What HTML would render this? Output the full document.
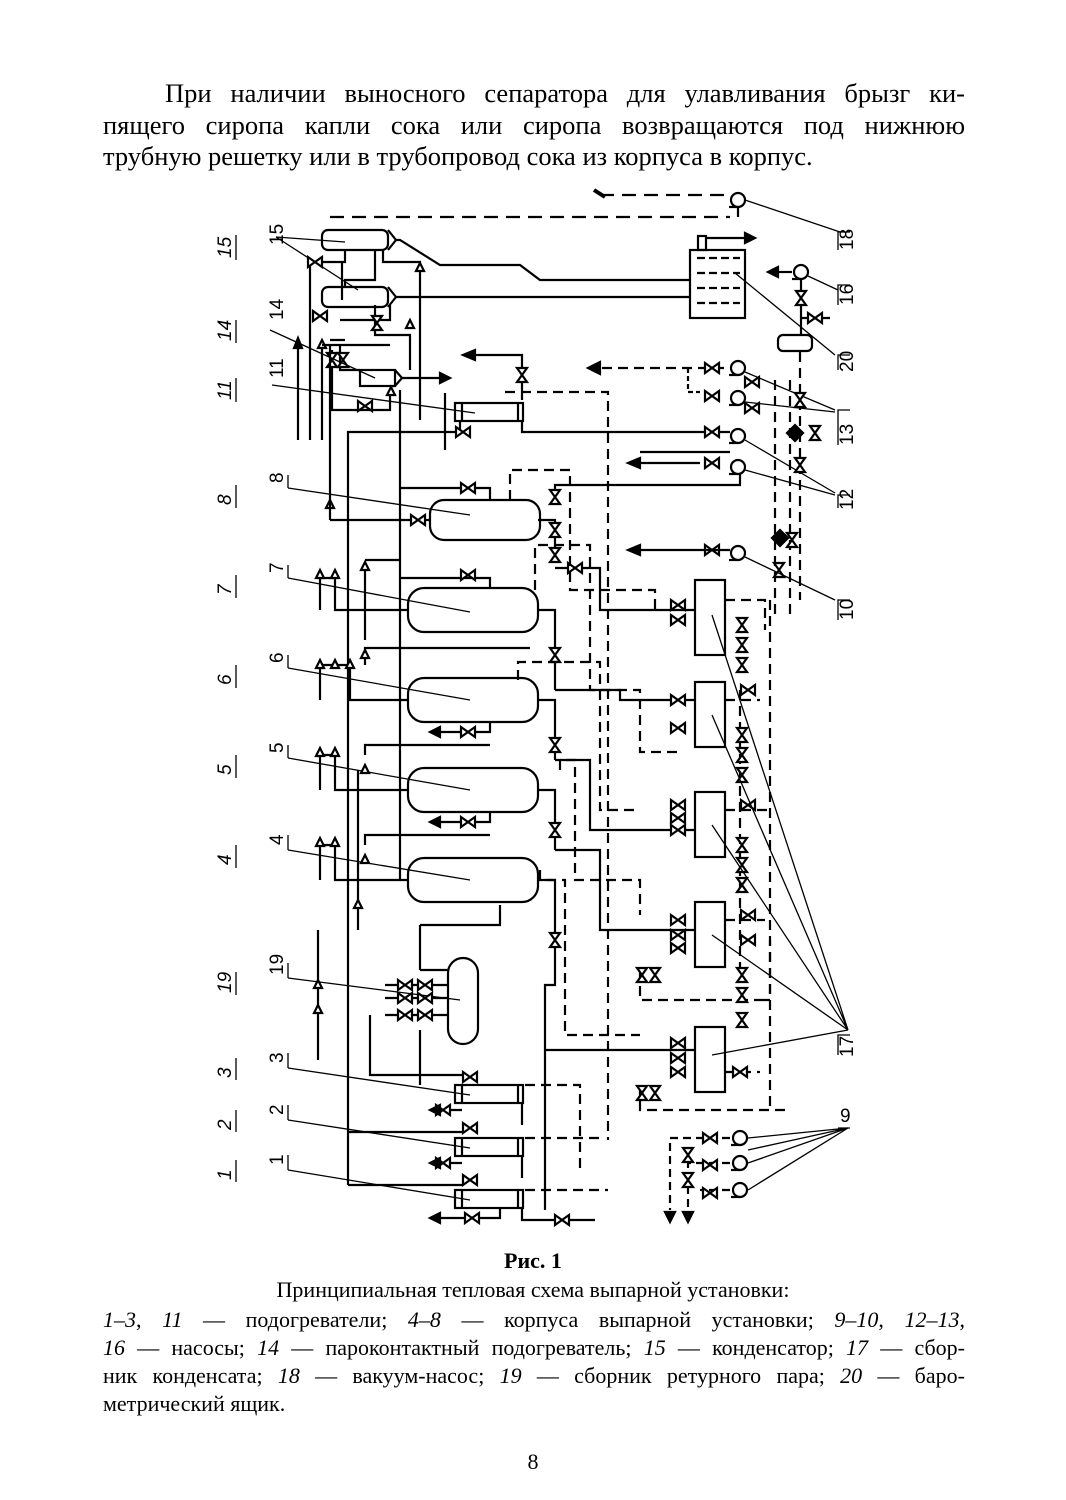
<!DOCTYPE html>
<html><head><meta charset="utf-8"><style>
body{margin:0;background:#fff;width:1066px;height:1500px;overflow:hidden;font-family:"Liberation Serif",serif;color:#000}
.l{position:absolute;left:103px;width:862px;font-size:26.5px;text-align:justify;text-align-last:justify;white-space:nowrap}
.c{position:absolute;left:0;width:1066px;text-align:center;font-size:21px}
.k{position:absolute;left:103px;width:862px;font-size:22px;text-align:justify;text-align-last:justify;white-space:nowrap}
svg{position:absolute;left:0;top:0}
</style></head><body>
<div class="l" style="top:78px;left:165px;width:800px">При наличии выносного сепаратора для улавливания брызг ки-</div>
<div class="l" style="top:110px">пящего сиропа капли сока или сиропа возвращаются под нижнюю</div>
<div class="l" style="top:141px;text-align-last:left">трубную решетку или в трубопровод сока из корпуса в корпус.</div>
<svg width="1066" height="1500" viewBox="0 0 1066 1500" fill="none" stroke="#000" stroke-width="2.2">
<defs>
<g id="v"><path d="M-7,-5 L7,5 L7,-5 L-7,5 Z" fill="#fff"/></g>
<g id="vv"><path d="M-5,-7 L5,7 L-5,7 L5,-7 Z" fill="#fff"/></g>
<g id="pm"><circle r="7" fill="#fff"/><path d="M0,7 L-9,7"/></g>
<g id="ua"><path d="M0,0 L-4,8 L4,8Z" fill="#fff"/></g>
</defs>
<path d="M330,217 H730" stroke-dasharray="14,8"/>
<path d="M600,195 H730" stroke-dasharray="14,8"/>
<path d="M594,190 L605,197" stroke-width="4"/>
<use href="#pm" x="738" y="200"/><path d="M745,200 L840,232" stroke-width="1.3"/>
<path d="M738,207 V217"/>
<rect x="322" y="230" width="66" height="20" rx="6" fill="#fff"/><path d="M388,230 L396,240 L388,250"/>
<rect x="322" y="287" width="66" height="20" rx="6" fill="#fff"/><path d="M388,287 L396,297 L388,307"/>
<path d="M396,240 H400 L440,265 H520 L540,280 H690"/>
<path d="M396,297 H690"/>
<path d="M276,237 L345,242 M276,237 L358,290" stroke-width="1.3"/>
<path d="M310,262 H345 V250 M310,262 V440 M342,262 V300 M345,287 V280 H375 V250 M383,250 V262 H420 V420 M340,320 H390 V305 M375,305 V335 H410 V370"/>
<use href="#v" x="315" y="262"/><use href="#v" x="320" y="316"/><use href="#vv" x="377" y="323"/>
<use href="#ua" x="420" y="263"/><use href="#ua" x="410" y="320"/>
<rect x="690" y="250" width="55" height="68" fill="#fff"/>
<path d="M697,258 H740 M697,273 H740 M697,288 H740 M697,303 H740" stroke-dasharray="8,4"/>
<rect x="698" y="236" width="8" height="14"/><path d="M706,238 H745"/><path d="M745,233 L755,238 L745,243Z" fill="#000"/>
<path d="M735,273 L835,355" stroke-width="1.3"/>
<use href="#pm" x="801" y="272"/><path d="M792,272 H778"/><path d="M778,267 L768,272 L778,277Z" fill="#000"/>
<path d="M801,279 V335"/><use href="#vv" x="801" y="298"/><path d="M801,318 H830"/><use href="#v" x="815" y="318"/>
<rect x="778" y="335" width="34" height="16" rx="5" fill="#fff"/>
<path d="M808,276 L838,290" stroke-width="1.3"/>
<path d="M800,352 V600" stroke-dasharray="10,6"/>
<rect x="360" y="370" width="35" height="16" fill="#fff"/><path d="M395,370 L402,378 L395,386"/>
<path d="M402,378 H440"/><path d="M440,373 L450,378 L440,383Z" fill="#000"/>
<path d="M298,440 V340"/><path d="M298,338 L294,348 H302Z" fill="#000"/>
<path d="M322,440 V345"/><use href="#ua" x="322" y="340"/>
<path d="M332,350 V410 H390 V395 M340,345 V370 H360 M322,345 L390,345 M330,340 H345"/>
<use href="#vv" x="332" y="360"/><use href="#vv" x="343" y="360"/><use href="#v" x="365" y="406"/><use href="#ua" x="391" y="387"/>
<path d="M270,330 L375,378" stroke-width="1.3"/>
<rect x="455" y="403" width="68" height="18" fill="#fff"/><path d="M462,403 V421 M518,403 V421"/>
<path d="M272,385 L475,413" stroke-width="1.3"/>
<path d="M522,400 V380 M522,385 V355 H475"/><path d="M475,350 L463,355 L475,360Z" fill="#000"/><use href="#vv" x="522" y="375"/>
<path d="M348,1185 V432 H460 V421"/><use href="#v" x="463" y="432"/>
<path d="M522,421 V432 H730"/><use href="#v" x="712" y="432"/><use href="#pm" x="738" y="436"/>
<path d="M445,393 V450"/>
<path d="M400,390 V880"/>
<path d="M505,392 H608 V1140" stroke-dasharray="10,6"/>
<path d="M740,368 H600" stroke-dasharray="10,6"/><path d="M600,362 L588,368 L600,374Z" fill="#000"/>
<use href="#v" x="712" y="368"/><use href="#pm" x="738" y="368"/>
<use href="#v" x="712" y="396"/><use href="#pm" x="738" y="398"/>
<path d="M688,368 V392 H700" stroke-dasharray="5,3"/>
<use href="#v" x="752" y="382"/><use href="#v" x="752" y="408"/>
<path d="M640,452 H730"/><use href="#v" x="712" y="463"/><use href="#pm" x="738" y="467"/>
<path d="M640,463 H700"/><path d="M640,458 L628,463 L640,468Z" fill="#000"/>
<path d="M745,372 L835,410 M745,402 L835,412 M745,440 L835,493 M745,470 L835,495" stroke-width="1.3"/>
<path d="M775,380 V615 M790,380 V615" stroke-dasharray="10,6"/>
<use href="#vv" x="800" y="400"/><use href="#vv" x="815" y="433"/><use href="#vv" x="800" y="465"/>
<path d="M795,425 L803,433 L795,441 L787,433Z" fill="#000"/>
<path d="M780,530 L788,538 L780,546 L772,538Z" fill="#000"/><use href="#vv" x="792" y="540"/><use href="#vv" x="779" y="570"/>
<path d="M740,474 V485 H555 V505"/><use href="#vv" x="555" y="497"/>
<use href="#pm" x="738" y="553"/><use href="#v" x="712" y="550"/><path d="M730,550 H640"/><path d="M640,545 L628,550 L640,555Z" fill="#000"/>
<path d="M745,557 L835,600" stroke-width="1.3"/>
<g fill="#fff">
<rect x="430" y="500" width="110" height="40" rx="14"/>
<rect x="408" y="588" width="130" height="44" rx="16"/>
<rect x="408" y="678" width="130" height="44" rx="16"/>
<rect x="408" y="768" width="130" height="44" rx="16"/>
<rect x="408" y="858" width="130" height="44" rx="16"/>
<rect x="448" y="958" width="30" height="86" rx="15"/>
<rect x="455" y="1085" width="68" height="18"/>
<rect x="455" y="1138" width="68" height="18"/>
<rect x="455" y="1190" width="68" height="18"/>
<rect x="695" y="580" width="30" height="75"/>
<rect x="695" y="682" width="30" height="65"/>
<rect x="695" y="792" width="30" height="65"/>
<rect x="695" y="902" width="30" height="65"/>
<rect x="695" y="1027" width="30" height="65"/>
</g>
<path d="M462,1085 V1103 M518,1085 V1103 M462,1138 V1156 M518,1138 V1156 M462,1190 V1208 M518,1190 V1208"/>
<path d="M288,488 L470,515 M288,578 L470,612 M288,668 L470,700 M288,758 L470,790 M288,850 L470,880 M288,978 L460,1000 M288,1068 L470,1095 M288,1120 L470,1148 M288,1170 L470,1200" stroke-width="1.3"/>
<path d="M288,475 V488 M288,565 V578 M288,655 V668 M288,745 V758 M288,835 V850 M288,963 V978 M288,1053 V1068 M288,1105 V1120 M288,1155 V1170" stroke-width="1.3"/>
<path d="M400,488 H490 V500 M400,578 H490 V588 M365,665 V648 H530 M365,755 V745 H490 M365,845 V835 H490"/>
<use href="#v" x="468" y="488"/><use href="#v" x="468" y="575"/>
<path d="M330,520 H430"/><use href="#v" x="418" y="520"/><use href="#ua" x="330" y="500"/>
<path d="M330,345 V520"/>
<path d="M320,610 V578 H335 V610 H408 M320,700 V665 H350 V700 H408 M320,790 V755 H335 V790 H408 M320,880 V845 H335 V880 H408"/>
<use href="#ua" x="320" y="570"/><use href="#ua" x="335" y="570"/><use href="#ua" x="320" y="660"/><use href="#ua" x="335" y="660"/><use href="#ua" x="350" y="660"/>
<use href="#ua" x="320" y="748"/><use href="#ua" x="335" y="748"/><use href="#ua" x="320" y="838"/><use href="#ua" x="335" y="838"/>
<use href="#ua" x="365" y="562"/><use href="#ua" x="365" y="650"/><use href="#ua" x="365" y="765"/><use href="#ua" x="365" y="855"/>
<path d="M365,570 V640 M365,560 H400"/>
<path d="M440,732 H490 V722 M440,822 H490 V812"/><path d="M440,727 L430,732 L440,737Z" fill="#000"/><path d="M440,817 L430,822 L440,827Z" fill="#000"/>
<use href="#v" x="468" y="732"/><use href="#v" x="468" y="822"/>
<path d="M538,520 H555 V560 M538,610 H555 V690 M538,700 H555 V760 M538,790 H555 V850 M538,880 H555 V985 H545 V1210"/>
<use href="#vv" x="555" y="530"/><use href="#vv" x="555" y="555"/><use href="#vv" x="555" y="655"/><use href="#vv" x="555" y="745"/><use href="#vv" x="555" y="830"/><use href="#vv" x="555" y="940"/>
<path d="M555,568 H600 V610 H695 M555,690 H620 V700 H695 M555,760 H590 V830 H695 M555,850 H600 V930 H695 M545,1050 H695"/>
<use href="#v" x="575" y="568"/><use href="#v" x="678" y="605"/><use href="#v" x="678" y="620"/><use href="#v" x="678" y="700"/><use href="#v" x="678" y="728"/>
<use href="#v" x="678" y="805"/><use href="#v" x="678" y="818"/><use href="#v" x="678" y="830"/><use href="#v" x="678" y="920"/><use href="#v" x="678" y="935"/><use href="#v" x="678" y="948"/>
<use href="#v" x="678" y="1043"/><use href="#v" x="678" y="1058"/><use href="#v" x="678" y="1072"/>
<path d="M510,500 V470 H570 V590 H655 V610 M535,590 V545 H590 V690 H640 V752 H680 M518,680 V662 H600 V810 H640 M560,770 V760 H575 V880 H640 V915 M540,870 V880 H565 V1035 H640" stroke-dasharray="10,6"/>
<path d="M725,600 H765 V630 M725,700 H760 M725,810 H770 M725,920 H765 M725,1072 H760 M760,1000 H770 V940 M640,970 V1000 H760 M640,1085 V1110 H790 M740,690 V980" stroke-dasharray="10,6"/>
<path d="M770,600 V1110" stroke-dasharray="10,6"/>
<use href="#vv" x="742" y="625"/><use href="#vv" x="742" y="645"/><use href="#vv" x="742" y="665"/><use href="#vv" x="742" y="735"/><use href="#vv" x="742" y="755"/><use href="#vv" x="742" y="775"/>
<use href="#vv" x="742" y="845"/><use href="#vv" x="742" y="865"/><use href="#vv" x="742" y="885"/><use href="#vv" x="742" y="975"/><use href="#vv" x="742" y="995"/><use href="#vv" x="742" y="1020"/>
<use href="#v" x="748" y="690"/><use href="#v" x="748" y="805"/><use href="#v" x="748" y="915"/><use href="#v" x="740" y="1072"/><use href="#v" x="748" y="940"/>
<use href="#vv" x="642" y="975"/><use href="#vv" x="655" y="975"/><use href="#vv" x="642" y="1093"/><use href="#vv" x="655" y="1093"/>
<path d="M712,615 L848,1030 M712,715 L848,1030 M712,825 L848,1030 M712,935 L848,1030 M712,1055 L848,1030" stroke-width="1.3"/>
<path d="M420,970 H448 M420,925 V970 M420,925 H500 V905 M420,1030 V1085"/>
<path d="M385,998 H448 M385,1015 H448 M385,985 H448 M370,1015 V1075 H462"/>
<use href="#v" x="405" y="985"/><use href="#v" x="425" y="985"/><use href="#v" x="405" y="998"/><use href="#v" x="425" y="998"/><use href="#v" x="405" y="1015"/><use href="#v" x="425" y="1015"/>
<path d="M318,930 V1060"/><use href="#ua" x="318" y="980"/><use href="#ua" x="318" y="1005"/>
<path d="M358,770 V930"/><use href="#ua" x="358" y="900"/>
<path d="M348,1132 H462 M348,1185 H462 M440,1110 H462 M440,1163 H462 M440,1218 H500 V1208"/>
<use href="#v" x="470" y="1077"/><use href="#v" x="470" y="1128"/><use href="#v" x="470" y="1180"/>
<use href="#v" x="443" y="1110"/><use href="#v" x="443" y="1163"/><use href="#v" x="472" y="1218"/>
<path d="M440,1105 L430,1110 L440,1115Z" fill="#000"/><path d="M440,1158 L430,1163 L440,1168Z" fill="#000"/><path d="M440,1213 L430,1218 L440,1223Z" fill="#000"/>
<path d="M522,1103 V1125 M522,1156 V1178 M522,1208 V1220 H595"/><use href="#v" x="562" y="1220"/>
<path d="M525,1085 H580 V1170 M525,1138 H600 M525,1190 H608" stroke-dasharray="10,6"/>
<use href="#pm" x="740" y="1138"/><use href="#pm" x="740" y="1163"/><use href="#pm" x="740" y="1190"/>
<path d="M730,1138 H670 V1210 M730,1163 H688 V1210 M730,1190 H700" stroke-dasharray="8,5"/>
<use href="#v" x="710" y="1138"/><use href="#v" x="710" y="1165"/><use href="#v" x="710" y="1193"/><use href="#vv" x="688" y="1155"/><use href="#vv" x="688" y="1180"/>
<path d="M665,1212 L670,1222 L675,1212Z M683,1212 L688,1222 L693,1212Z" fill="#000"/>
<path d="M748,1138 L848,1128 M748,1163 L848,1128 M748,1190 L848,1128 M748,1150 L848,1128" stroke-width="1.3"/>
<path d="M838,250 V232 H850 M838,305 V285 H850 M838,370 V355 H850 M838,445 V410 H850 M838,508 V495 H850 M838,620 V600 H850 M838,1055 V1035 H850 M838,1128 H850" stroke-width="1.3"/>
<path d="M236,260 V235 M236,343 V320 M236,402 V378 M236,508 V485 M236,598 V575 M236,688 V665 M236,778 V755 M236,868 V845 M236,995 V972 M236,1080 V1058 M236,1132 V1110 M236,1182 V1160" stroke-width="1.3"/>
<g font-family="Liberation Sans,sans-serif" font-size="19" fill="#000" stroke="none" font-style="italic">
<text transform="translate(231,258) rotate(-90)">15</text><text transform="translate(231,341) rotate(-90)">14</text><text transform="translate(231,400) rotate(-90)">11</text>
<text transform="translate(231,505) rotate(-90)">8</text><text transform="translate(231,595) rotate(-90)">7</text><text transform="translate(231,685) rotate(-90)">6</text>
<text transform="translate(231,775) rotate(-90)">5</text><text transform="translate(231,865) rotate(-90)">4</text><text transform="translate(231,993) rotate(-90)">19</text>
<text transform="translate(231,1078) rotate(-90)">3</text><text transform="translate(231,1130) rotate(-90)">2</text><text transform="translate(231,1180) rotate(-90)">1</text>
</g>
<g font-family="Liberation Sans,sans-serif" font-size="19" fill="#000" stroke="none">
<text transform="translate(283,245) rotate(-90)">15</text><text transform="translate(283,320) rotate(-90)">14</text><text transform="translate(283,378) rotate(-90)">11</text>
<text transform="translate(283,483) rotate(-90)">8</text><text transform="translate(283,573) rotate(-90)">7</text><text transform="translate(283,663) rotate(-90)">6</text>
<text transform="translate(283,753) rotate(-90)">5</text><text transform="translate(283,845) rotate(-90)">4</text><text transform="translate(283,975) rotate(-90)">19</text>
<text transform="translate(283,1063) rotate(-90)">3</text><text transform="translate(283,1115) rotate(-90)">2</text><text transform="translate(283,1165) rotate(-90)">1</text>
<text transform="translate(853,250) rotate(-90)">18</text><text transform="translate(853,305) rotate(-90)">16</text><text transform="translate(853,372) rotate(-90)">20</text>
<text transform="translate(853,445) rotate(-90)">13</text><text transform="translate(853,510) rotate(-90)">12</text><text transform="translate(853,620) rotate(-90)">10</text>
<text transform="translate(853,1057) rotate(-90)">17</text><text x="840" y="1122">9</text>
</g>
</svg>
<div class="c" style="top:1248px;font-weight:bold;font-size:22px">Рис. 1</div>
<div class="c" style="top:1277px;font-size:22px">Принципиальная тепловая схема выпарной установки:</div>
<div class="k" style="top:1307px"><i>1–3</i>, <i>11</i> — подогреватели; <i>4–8</i> — корпуса выпарной установки; <i>9–10</i>, <i>12–13</i>,</div>
<div class="k" style="top:1335px"><i>16</i> — насосы; <i>14</i> — пароконтактный подогреватель; <i>15</i> — конденсатор; <i>17</i> — сбор-</div>
<div class="k" style="top:1363px">ник конденсата; <i>18</i> — вакуум-насос; <i>19</i> — сборник ретурного пара; <i>20</i> — баро-</div>
<div class="k" style="top:1391px;text-align-last:left">метрический ящик.</div>
<div class="c" style="top:1449px;font-size:22px">8</div>
</body></html>
